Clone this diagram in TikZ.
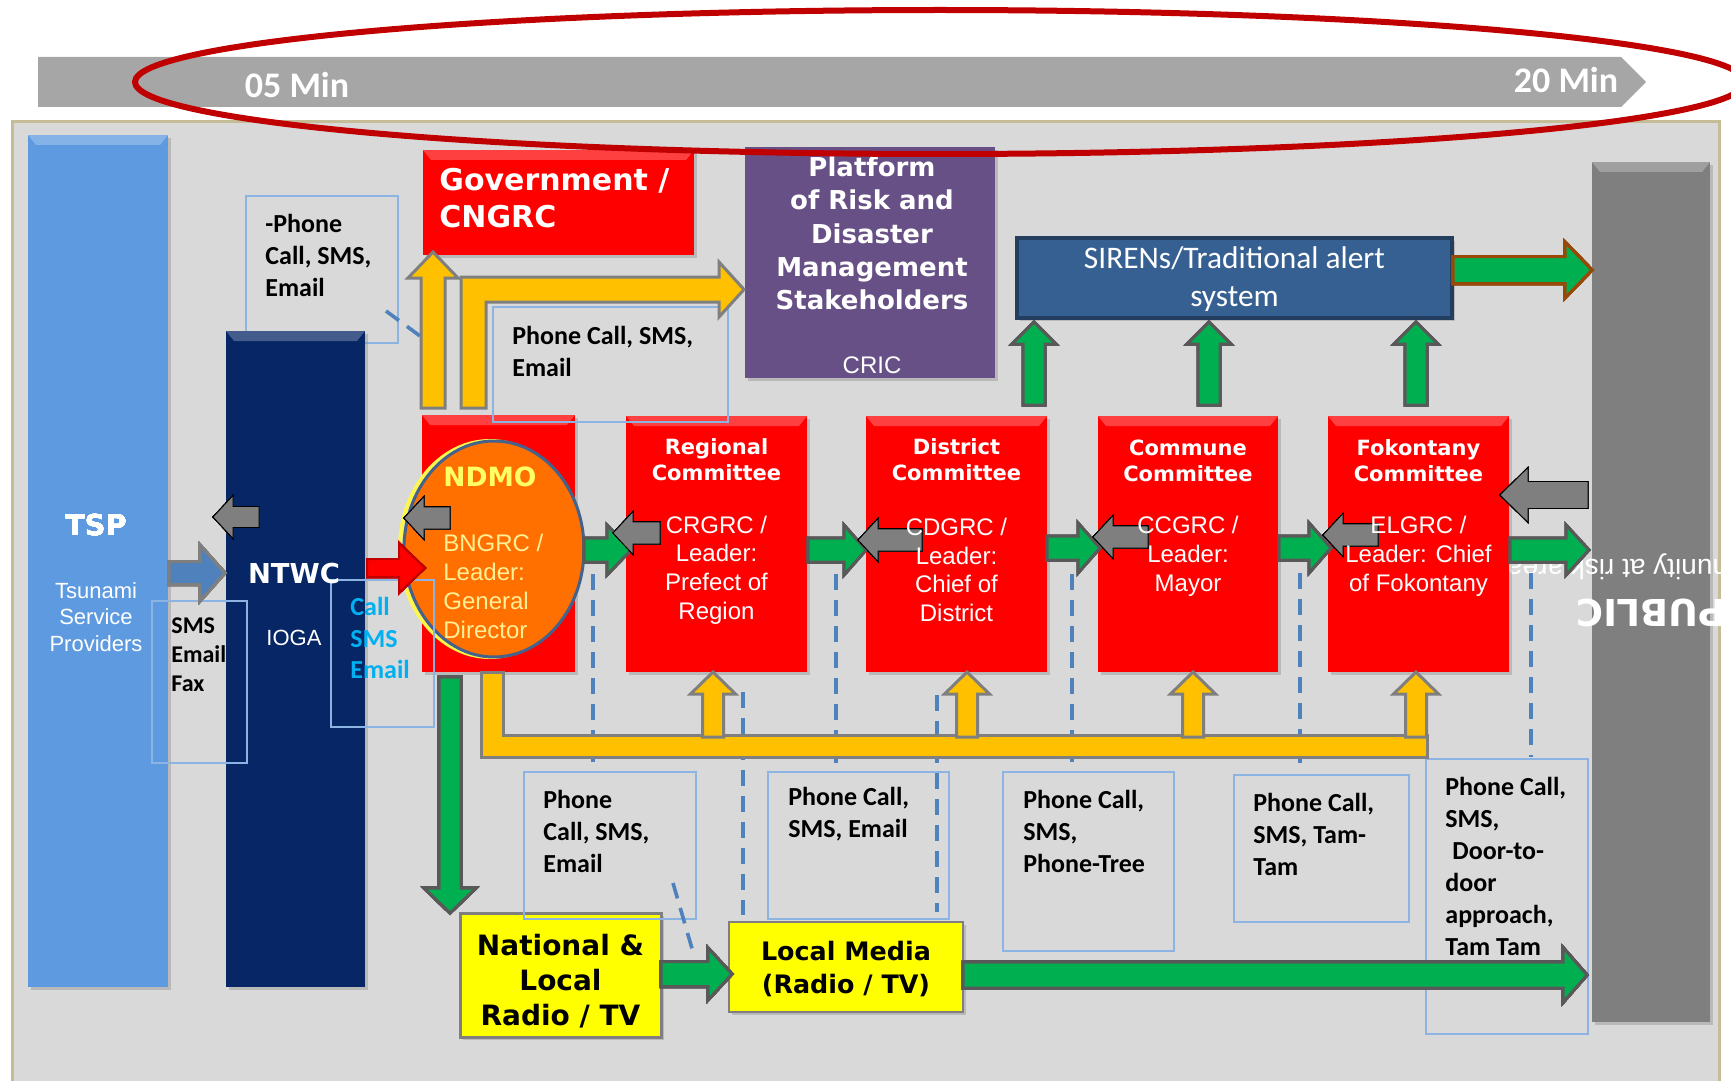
\documentclass[tikz,border=0pt]{standalone}
\usepackage{fontspec}
\setmainfont{Liberation Sans}
\newfontfamily\calfont{Carlito}
\newfontfamily\heavyfont{DejaVu Sans}
\usetikzlibrary{shapes.geometric,shadows}
\definecolor{pnl}{RGB}{217,217,217}
\definecolor{tanb}{RGB}{196,189,151}
\definecolor{tlg}{RGB}{166,166,166}
\definecolor{tspc}{RGB}{94,154,224}
\definecolor{navy0}{RGB}{6,38,102}
\definecolor{pubg}{RGB}{127,127,127}
\definecolor{red0}{RGB}{255,0,0}
\definecolor{purp}{RGB}{103,80,133}
\definecolor{sirb}{RGB}{55,96,146}
\definecolor{sird}{RGB}{36,62,96}
\definecolor{orng}{RGB}{255,112,0}
\definecolor{ebl}{RGB}{68,98,140}
\definecolor{gld}{RGB}{255,192,0}
\definecolor{grn}{RGB}{0,176,80}
\definecolor{dgray}{RGB}{89,89,89}
\definecolor{mgray}{RGB}{127,127,127}
\definecolor{yel}{RGB}{255,255,0}
\definecolor{lblue}{RGB}{141,179,226}
\definecolor{dblue}{RGB}{79,129,189}
\definecolor{redl}{RGB}{192,0,0}
\definecolor{cyan0}{RGB}{0,176,240}
\definecolor{ylw}{RGB}{255,255,102}
\definecolor{pyl}{RGB}{255,240,150}
\definecolor{brn}{RGB}{152,72,7}
\newcommand{\fsz}[2]{\fontsize{#1}{#2}\selectfont}
\newcommand{\bev}[3]{\fill[white,opacity=.25] (#1,#2) -- (#3,#2) -- ({#3-8},{#2+10}) -- ({#1+8},{#2+10}) -- cycle;}
\newcommand{\barw}[8]{%
\pgfmathsetmacro{\arL}{veclen((#4)-(#2),(#5)-(#3))}%
\pgfmathsetmacro{\arUx}{((#4)-(#2))/\arL}%
\pgfmathsetmacro{\arUy}{((#5)-(#3))/\arL}%
\pgfmathsetmacro{\arBx}{(#4)-(#8)*(\arUx)}%
\pgfmathsetmacro{\arBy}{(#5)-(#8)*(\arUy)}%
\draw[#1] ({(#2)-(#6)*(\arUy)},{(#3)+(#6)*(\arUx)}) -- ({\arBx-(#6)*(\arUy)},{\arBy+(#6)*(\arUx)}) -- ({\arBx-(#7)*(\arUy)},{\arBy+(#7)*(\arUx)}) -- (#4,#5) -- ({\arBx+(#7)*(\arUy)},{\arBy-(#7)*(\arUx)}) -- ({\arBx+(#6)*(\arUy)},{\arBy-(#6)*(\arUx)}) -- ({(#2)+(#6)*(\arUy)},{(#3)-(#6)*(\arUx)}) -- cycle;}
\tikzstyle{sh}=[drop shadow={shadow xshift=1.5pt,shadow yshift=-1.5pt,opacity=.35}]
\tikzstyle{bx}=[rectangle, inner sep=0pt, outer sep=0pt]
\tikzstyle{rb}=[bx, fill=red0, sh]
\tikzstyle{lb}=[bx, draw=lblue, line width=0.75pt]
\tikzstyle{lt}=[inner sep=0pt, anchor=west, align=left, font=\calfont\bfseries\fsz{13pt}{16pt}]
\tikzstyle{ttl}=[inner sep=0pt, align=center, text=white, font=\heavyfont\bfseries\fsz{10.5pt}{13pt}]
\tikzstyle{bdy}=[inner sep=0pt, align=center, text=white, font=\fsz{12pt}{14.4pt}]
\tikzstyle{dl}=[draw=dblue, line width=1.8pt, dash pattern=on 8pt off 5pt]
\tikzstyle{ga}=[fill=grn, draw=dgray, line width=1.5pt, line join=miter]
\tikzstyle{ya}=[fill=gld, draw=mgray, line width=1.5pt, line join=miter]
\tikzstyle{la}=[fill=mgray]
\tikzstyle{ba}=[fill=dblue, draw=mgray, line width=1.5pt, line join=miter]
\tikzstyle{ra}=[fill=red0, draw=redl, line width=1pt, line join=miter]
\tikzstyle{bra}=[fill=grn, draw=brn, line width=1.5pt, line join=miter]
\begin{document}
\begin{tikzpicture}[x=0.5pt, y=-0.5pt]
\useasboundingbox (0,0) rectangle (1731,1081);
\clip (0,0) rectangle (1731,1081);
%%panel
\draw[fill=pnl, draw=tanb, line width=1.5pt] (12,122) rectangle (1719,1100);
%%timeline
\fill[tlg] (38,57) -- (1621,57) -- (1646,82) -- (1621,107) -- (38,107) -- cycle;
\node[inner sep=0pt, text=white, font=\calfont\bfseries\fsz{18pt}{20pt}] (t05) at (297,85) {05 Min};
\node[inner sep=0pt, text=white, font=\calfont\bfseries\fsz{18pt}{20pt}] (t20) at (1566,80) {20 Min};
%%label box behind ntwc
\node[lb, minimum width=76pt, minimum height=73.5pt] (lb1) at (322,269.5) {};
%%bars
\node[bx, fill=tspc, sh, minimum width=70pt, minimum height=426pt] (tsp) at (98,561) {};
\bev{28}{135}{168}
\node[bx, fill=navy0, sh, minimum width=69.5pt, minimum height=328pt] (ntwc) at (295.5,659) {};
\bev{226}{331}{365}
\node[bx, fill=pubg, sh, minimum width=59pt, minimum height=430pt] (pub) at (1651,592) {};
\bev{1592}{162}{1710}
\node[rotate=180, inner sep=0pt, text=white, font=\fsz{14pt}{16pt}] (commt) at (1651,567) {Community at risk area};
\node[rotate=180, inner sep=0pt, text=white, font=\heavyfont\bfseries\fsz{18.5pt}{20pt}] (pubt) at (1651,613) {PUBLIC};
%%top boxes
\node[rb, minimum width=135.5pt, minimum height=52.5pt] (gov) at (558.5,202.5) {};
\bev{423}{150}{694}
\node[bx, fill=purp, sh, minimum width=125pt, minimum height=115.5pt] (plat) at (870,262.5) {};
\node[bx, fill=sirb, draw=sird, line width=2pt, sh, minimum width=217.5pt, minimum height=40pt] (sir) at (1234.5,278) {};
%%committees
\node[rb, minimum width=76.5pt, minimum height=128.5pt] (ndmo) at (498.5,543.5) {};
\bev{422}{415}{575}
\node[rb, minimum width=90.5pt, minimum height=128pt] (reg) at (716.5,544) {};
\bev{626}{416}{807}
\node[rb, minimum width=90.5pt, minimum height=128pt] (dis) at (956.5,544) {};
\bev{866}{416}{1047}
\node[rb, minimum width=90pt, minimum height=128pt] (cmn) at (1188,544) {};
\bev{1098}{416}{1278}
\node[rb, minimum width=90.5pt, minimum height=128pt] (fok) at (1418.5,544) {};
\bev{1328}{416}{1509}
%%media
\node[bx, fill=yel, draw=mgray, line width=1.5pt, sh, minimum width=100.5pt, minimum height=62pt] (nat) at (560.5,975) {};
\node[bx, fill=yel, draw=mgray, line width=1pt, sh, minimum width=117pt, minimum height=45pt] (lmed) at (846,967) {};
%%ndmo ellipse
\node[ellipse, draw=yellow!70, line width=2pt, minimum width=90pt, minimum height=108pt] (ndmog) at (490,549) {};
\node[ellipse, fill=orng, draw=ebl, line width=1.5pt, minimum width=90pt, minimum height=108pt] (ndmoe) at (494,549) {};
%%label boxes
\node[lb, minimum width=117.5pt, minimum height=57.5pt] (lb2) at (610.5,364.5) {};
\node[lb, minimum width=47.5pt, minimum height=81pt] (lb3) at (199.5,682) {};
\node[lb, minimum width=51.5pt, minimum height=73.5pt] (lb4) at (382.5,653.5) {};
\node[lb, minimum width=86pt, minimum height=73.5pt] (lb5) at (610,845.5) {};
\node[lb, minimum width=90.5pt, minimum height=73.5pt] (lb6) at (858.5,845.5) {};
\node[lb, minimum width=85.5pt, minimum height=89.5pt] (lb7) at (1088.5,861.5) {};
\node[lb, minimum width=87.5pt, minimum height=73.5pt] (lb8) at (1321.5,848.5) {};
\node[lb, minimum width=81pt, minimum height=137.5pt] (lb9) at (1507,896.5) {};
%%dashed
\draw[dl] (lb1.south east) ++(-12,-32) -- (420,336);
\draw[dl] (593,574) -- (593,762);
\draw[dl] (836,574) -- (836,763);
\draw[dl] (743,692) -- (743,915);
\draw[dl] (937,695) -- (937,912);
\draw[dl] (1072,574) -- (1072,762);
\draw[dl] (1300,573) -- (1300,763);
\draw[dl] (1531,573) -- (1531,757);
\draw[dl] (673,883) -- (693,952);
%%yellow
\draw[ya] (461,408) -- (486,408) -- (486,302) -- (719,302) -- (719,317) -- (744,289.5) -- (719,262) -- (719,277) -- (461,277) -- cycle;
\barw{ya}{433}{408}{433}{252}{12}{25}{26}
\draw[ya] (481,672) -- (503,672) -- (503,735) -- (1427,735) -- (1427,757) -- (481,757) -- cycle;
\foreach \x in {713,967,1193,1416}
  \barw{ya}{\x}{737}{\x}{672}{10.5}{22.5}{22}
%%green
\barw{ga}{584}{550}{631}{550}{12}{25}{24}
\barw{ga}{808}{550}{866}{550}{12}{25}{22}
\barw{ga}{1047}{548}{1100}{548}{12}{25}{22}
\barw{ga}{1279}{548}{1331}{548}{12}{25}{22}
\barw{ga}{1510}{550}{1589}{550}{12}{25}{23}
\foreach \x in {1034,1209,1416}
  \barw{ga}{\x}{405}{\x}{322}{11}{22}{22}
\barw{ga}{450}{677}{450}{913}{11}{26}{25}
\barw{ga}{661}{974}{732}{974}{12.5}{26}{24}
\barw{ga}{963}{975}{1587}{975}{13}{27.5}{24}
\barw{bra}{1453}{270}{1592}{270}{13.5}{28}{27}
%%blue, red
\barw{ba}{169}{573}{225}{573}{11.5}{28}{25}
\barw{ra}{367}{568}{425}{568}{9}{25}{26}
%%gray back
\barw{la}{259}{517}{213}{517}{10.5}{21.5}{20}
\barw{la}{450}{518}{404}{518}{11}{21.5}{20}
\barw{la}{660}{533}{613}{533}{11}{21.5}{20}
\barw{la}{922}{540}{858}{540}{11}{21.5}{20}
\barw{la}{1148}{537}{1093}{537}{11}{21.5}{20}
\barw{la}{1378}{535}{1323}{535}{11}{21.5}{20}
\barw{la}{1588}{495}{1500}{495}{13.5}{27.5}{28}
%%name
\node[ttl, font=\heavyfont\bfseries\fsz{14.3pt}{16pt}] (tspn) at (96,525) {TSP};
\node[bdy, font=\fsz{11pt}{13.25pt}] (tspt) at (96,617) {Tsunami\\Service\\Providers};
\node[ttl, font=\heavyfont\bfseries\fsz{13.7pt}{16pt}] (ntwcn) at (294,574) {NTWC};
\node[bdy, font=\fsz{11pt}{13pt}] (ioga) at (294,638) {IOGA};
\node[ttl, anchor=west, align=left, font=\heavyfont\bfseries\fsz{15pt}{18.5pt}] (govt) at (439,198.5) {Government /\\CNGRC};
\node[ttl, font=\heavyfont\bfseries\fsz{13pt}{16.7pt}] (platt) at (872,233.5) {Platform\\of Risk and\\Disaster\\Management\\Stakeholders};
\node[bdy, font=\fsz{12pt}{14pt}] (cric) at (872,365) {CRIC};
\node[bdy, font=\calfont\fsz{15.7pt}{19pt}] (sirt) at (1234.5,279) {SIRENs/Traditional alert\\system};
\node[ttl, anchor=west, text=ylw, font=\heavyfont\bfseries\fsz{13.25pt}{15pt}] (ndmon) at (443,477) {NDMO};
\node[bdy, anchor=west, align=left, text=pyl] (ndmot) at (443,586.5) {BNGRC /\\Leader:\\General\\Director};
\node[ttl] (regn) at (716.5,460) {Regional\\Committee};
\node[bdy] (regt) at (716.5,570) {CRGRC /\\Leader:\\Prefect of\\Region};
\node[ttl] (disn) at (956.5,460) {District\\Committee};
\node[bdy] (dist) at (956.5,570) {CDGRC /\\Leader:\\Chief of\\District};
\node[ttl] (cmnn) at (1188,461) {Commune\\Committee};
\node[bdy] (cmnt) at (1188,556) {CCGRC /\\Leader:\\Mayor};
\node[ttl] (fokn) at (1418.5,461) {Fokontany\\Committee};
\node[bdy] (fokt) at (1418.5,556) {ELGRC /\\Leader: Chief\\of Fokontany};
\node[ttl, text=black, font=\heavyfont\bfseries\fsz{14pt}{17.5pt}] (natt) at (560.5,981) {National \&\\Local\\Radio / TV};
\node[ttl, text=black, font=\heavyfont\bfseries\fsz{12.7pt}{16.5pt}] (lmedt) at (846,969.5) {Local Media\\(Radio / TV)};
%%labels
\node[lt] (l1) at (265,255) {-Phone\\Call, SMS,\\Email};
\node[lt] (l2) at (512,351) {Phone Call, SMS,\\Email};
\node[lt, font=\calfont\bfseries\fsz{12pt}{14.5pt}] (l3) at (171,655) {SMS\\Email\\Fax};
\node[lt, text=cyan0, font=\calfont\bfseries\fsz{13pt}{15.75pt}] (l4) at (350,638) {Call\\SMS\\Email};
\node[lt] (l5) at (543,831) {Phone\\Call, SMS,\\Email};
\node[lt] (l6) at (788,814) {Phone Call,\\SMS, Email};
\node[lt] (l7) at (1023,831) {Phone Call,\\SMS,\\Phone-Tree};
\node[lt] (l8) at (1253,834) {Phone Call,\\SMS, Tam-\\Tam};
\node[lt] (l9) at (1445,866) {Phone Call,\\SMS,\\\hspace*{3.5pt}Door-to-\\door\\approach,\\Tam Tam};
%%ring
\draw[redl, line width=3pt] (940,82) ellipse [x radius=805, y radius=72];
\end{tikzpicture}
\end{document}
